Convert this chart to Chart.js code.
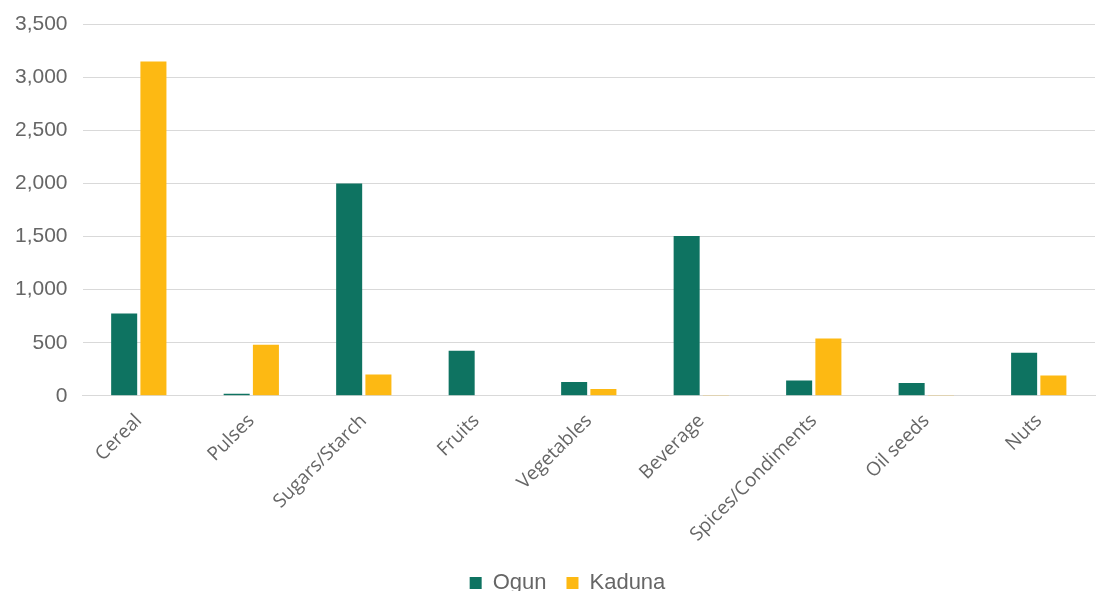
<!DOCTYPE html>
<html>
<head>
<meta charset="utf-8">
<script src="https://cdn.jsdelivr.net/npm/chart.js@4/dist/chart.umd.min.js"></script>
<style>
html,body{margin:0;padding:0;background:#fff;overflow:hidden;}
#wrap{position:relative;width:1100px;height:604px;}
</style>
</head>
<body>
<div id="wrap"><canvas id="c"></canvas></div>
<script>
const categories = ["Cereal","Pulses","Sugars/Starch","Fruits","Vegetables","Beverage","Spices/Condiments","Oil seeds","Nuts"];
const ogun = [775, 20, 2000, 425, 130, 1505, 145, 120, 405];
const kaduna = [3150, 480, 200, 0, 65, 3, 540, 3, 190];
const yTicks = [0, 500, 1000, 1500, 2000, 2500, 3000, 3500];

const shiftLegend = {
  id: 'shiftLegend',
  afterLayout(chart) {
    if (chart.legend) { chart.legend.left += 20; chart.legend.right += 20; }
  }
};

new Chart(document.getElementById('c'), {
  type: 'bar',
  data: {
    labels: categories,
    datasets: [
      {label: 'Ogun', data: ogun, backgroundColor: '#0E7361', categoryPercentage: 0.52, barPercentage: 0.89},
      {label: 'Kaduna', data: kaduna, backgroundColor: '#FDB913', categoryPercentage: 0.52, barPercentage: 0.89}
    ]
  },
  plugins: [shiftLegend],
  options: {
    responsive: true,
    maintainAspectRatio: false,
    animation: false,
    layout: {padding: {left: 0, right: 5, top: 0, bottom: 0}},
    plugins: {
      legend: {
        position: 'bottom',
        labels: {boxWidth: 12, boxHeight: 12, color: '#666', font: {family: 'Liberation Sans', size: 22}, padding: 20}
      },
      tooltip: {enabled: false}
    },
    scales: {
      x: {
        grid: {display: false},
        border: {color: '#d9d9d9', width: 1},
        ticks: {minRotation: 45, maxRotation: 45, color: '#666', font: {family: 'Open Sans', size: 19}, padding: 6}
      },
      y: {
        min: 0, max: 3500,
        afterBuildTicks: ax => { ax.ticks = yTicks.map(v => ({value: v})); },
        grid: {color: '#d9d9d9', lineWidth: 1, drawTicks: false},
        border: {display: false},
        ticks: {color: '#666', font: {family: 'Liberation Sans', size: 21, lineHeight: 0.9}, padding: 15,
          callback: v => v.toLocaleString('en-US')}
      }
    }
  }
});
</script>
</body>
</html>
